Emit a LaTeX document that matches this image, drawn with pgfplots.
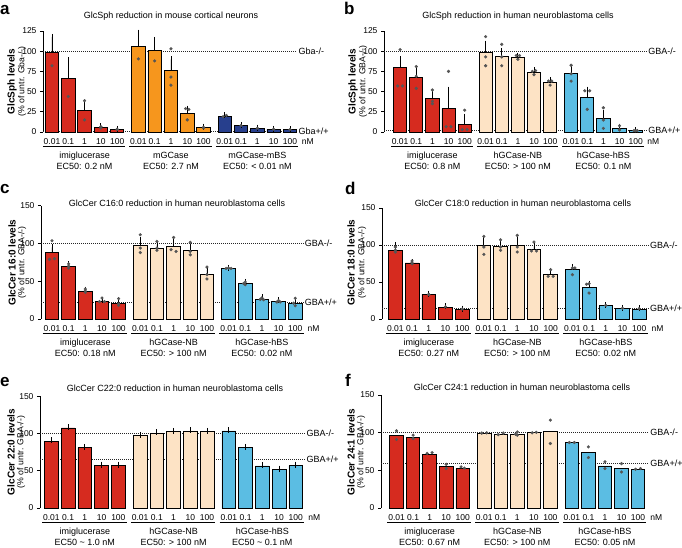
\documentclass[border=0pt]{standalone}
\usepackage{fontspec}
\setmainfont{Liberation Sans}
\usepackage{pgfplots}
\pgfplotsset{compat=1.18}
\definecolor{cred}{HTML}{D62B1F}
\definecolor{corange}{HTML}{F6961D}
\definecolor{cnavy}{HTML}{273F8D}
\definecolor{cpeach}{HTML}{FDE3C5}
\definecolor{cblue}{HTML}{5BBDE3}
\definecolor{dotgray}{HTML}{555555}
\newcommand{\tl}{\fontsize{8.5}{10}\selectfont}
\newcommand{\gl}{\fontsize{9}{11}\selectfont}
\newcommand{\yb}{\fontsize{10}{12}\selectfont\bfseries}
\newcommand{\yn}{\fontsize{8.7}{10}\selectfont}
\newcommand{\pl}{\fontsize{17}{17}\selectfont\bfseries}
\pgfplotsset{
  panel/.style={
    scale only axis, anchor=south west, clip=false,
    ymin=0, xmax=16, enlargelimits=false,
    separate axis lines,
    axis y line*=left, axis x line*=bottom,
    x axis line style={draw=none},
    xtick style={draw=none},
    y axis line style={black, line width=0.8pt},
    ytick style={black, line width=0.8pt},
    tick align=outside, major tick length=3pt,
    xtick={0,1,2,3,4,5.3,6.3,7.3,8.3,9.3,10.6,11.6,12.6,13.6,14.6,15.7},
    xticklabels={0.01,0.1,1,10,100,0.01,0.1,1,10,100,0.01,0.1,1,10,100,nM},
    ticklabel style={font=\tl, text=black},
    /pgf/number format/assume math mode=true,
  },
  bars/.style={ybar, bar width=0.82, bar shift=0pt, draw=black, line width=0.8pt},
  errs/.style={error bars/y dir=plus, error bars/y explicit,
    error bars/error bar style={black, line width=0.8pt},
    error bars/error mark options={black, line width=0.8pt, mark size=3pt}},
  dots/.style={only marks, mark=*, mark size=1.4pt, color=dotgray},
  refline/.style={black!85, line width=0.6pt, dash pattern=on 0.7pt off 1.3pt},
}
\newcommand{\refl}[4]{%
  \addplot[refline] coordinates {(#1,#3) (#2,#3)};
  \node[font=\gl, anchor=west, inner sep=1.5pt] at (axis cs:#2,#3) {#4};
}
\newcommand{\gdeco}[5]{%
  \draw[line width=0.8pt, black] ([yshift=-14.5pt]axis cs:#1,0) -- ([yshift=-14.5pt]axis cs:#2,0);
  \node[font=\gl, inner sep=0pt, anchor=base] at ([yshift=-26pt]axis cs:#3,0) {#4};
  \node[font=\gl, inner sep=0pt, anchor=base] at ([yshift=-37.5pt]axis cs:#3,0) {#5};
}
\newcommand{\alldeco}[6]{%
  \gdeco{-0.55}{4.5}{2}{#1}{#2}
  \gdeco{4.75}{9.8}{7.3}{#3}{#4}
  \gdeco{10.05}{15.1}{12.6}{#5}{#6}
}
\begin{document}
\begin{tikzpicture}
\useasboundingbox (0,0) rectangle (682pt,-547pt);
% panel letters
\node[font=\pl, anchor=base west, inner sep=0pt] at (0pt,-14pt) {a};
\node[font=\pl, anchor=base west, inner sep=0pt] at (344pt,-14pt) {b};
\node[font=\pl, anchor=base west, inner sep=0pt] at (0pt,-193pt) {c};
\node[font=\pl, anchor=base west, inner sep=0pt] at (345pt,-194pt) {d};
\node[font=\pl, anchor=base west, inner sep=0pt] at (0pt,-386pt) {e};
\node[font=\pl, anchor=base west, inner sep=0pt] at (345pt,-386pt) {f};
% titles
\node[font=\gl] at (171pt,-16pt) {GlcSph reduction in mouse cortical neurons};
\node[font=\gl] at (518pt,-16pt) {GlcSph reduction in human neuroblastoma cells};
\node[font=\gl] at (177pt,-203pt) {GlcCer C16:0 reduction in human neuroblastoma cells};
\node[font=\gl] at (523pt,-203pt) {GlcCer C18:0 reduction in human neuroblastoma cells};
\node[font=\gl] at (175pt,-388pt) {GlcCer C22:0 reduction in human neuroblastoma cells};
\node[font=\gl] at (522pt,-387pt) {GlcCer C24:1 reduction in human neuroblastoma cells};
% y labels
\node[font=\yb, rotate=90] at (12pt,-81.5pt) {GlcSph levels};
\node[font=\yn, rotate=90] at (22pt,-81.5pt) {(\% of untr. Gba-/-)};
\node[font=\yb, rotate=90] at (353pt,-81.5pt) {GlcSph levels};
\node[font=\yn, rotate=90] at (363pt,-81.5pt) {(\% of untr. GBA-/-)};
\node[font=\yb, rotate=90] at (12pt,-262.5pt) {GlcCer 16:0 levels};
\node[font=\yn, rotate=90] at (22pt,-262.5pt) {(\% of untr. GBA-/-)};
\node[font=\yb, rotate=90] at (351pt,-262.5pt) {GlcCer 18:0 levels};
\node[font=\yn, rotate=90] at (362pt,-262.5pt) {(\% of untr. GBA-/-)};
\node[font=\yb, rotate=90] at (11pt,-452pt) {GlcCer 22:0 levels};
\node[font=\yn, rotate=90] at (21pt,-452pt) {(\% of untr. GBA-/-)};
\node[font=\yb, rotate=90] at (351pt,-452pt) {GlcCer 24:1 levels};
\node[font=\yn, rotate=90] at (361pt,-452pt) {(\% of untr. GBA-/-)};

% ---------------- panel a
\begin{axis}[panel, at={(43pt,-132pt)}, x=16.3pt, y=0.808pt, xmin=-0.55, ymax=125,
  ytick={0,25,50,75,100,125}]
\refl{-0.55}{15.03}{100}{Gba-/-}
\refl{-0.55}{15.03}{1.2}{Gba+/+}
\addplot[bars, fill=cred, errs] coordinates {(0,99) +- (0,18.6) (1,66) +- (0,23) (2,27) +- (0,6) (3,5.8) +- (0,1.6) (4,3.3) +- (0,0.7)};
\addplot[bars, fill=corange, errs] coordinates {(5.3,106) +- (0,17) (6.3,100.5) +- (0,13.5) (7.3,75.7) +- (0,14.3) (8.3,23) +- (0,6) (9.3,5.3) +- (0,1.3)};
\addplot[bars, fill=cnavy, errs] coordinates {(10.6,19.3) +- (0,1.7) (11.6,7.8) +- (0,0.8) (12.6,4.5) +- (0,0.8) (13.6,3.3) +- (0,0.5) (14.6,2.9) +- (0,0.5)};
\addplot[dots] coordinates {(0,82) (1,44) (2,38.7) (2,15) (3,6.5) (3,5) (4,3.5) (4,3)
 (5.3,90.5) (6.3,88) (7.3,103) (7.3,68) (7.3,58) (8.2,29) (8.4,28) (8.3,15) (9.3,5.8) (9.3,5)
 (10.5,19) (10.7,20.5) (11.6,8) (12.6,4.7) (13.6,3.5) (14.6,3)};
\alldeco{imiglucerase}{EC50: 0.2 nM}{mGCase}{EC50: 2.7 nM}{mGCase-mBS}{EC50: < 0.01 nM}
\end{axis}

% ---------------- panel b
\begin{axis}[panel, at={(384pt,-132pt)}, x=16.13pt, y=0.808pt, xmin=-1.0, ymax=125,
  ytick={0,25,50,75,100,125}]
\refl{-1.0}{15.28}{100}{GBA-/-}
\refl{-1.0}{15.28}{2.5}{GBA+/+}
\addplot[bars, fill=cred, errs] coordinates {(0,79.4) +- (0,11) (1,68) +- (0,8.5) (2,41.5) +- (0,6.2) (3,28.8) +- (0,23.8) (4,9.9) +- (0,9.1)};
\addplot[bars, fill=cpeach, errs] coordinates {(5.3,99) +- (0,10.4) (6.3,93.8) +- (0,6.5) (7.3,92) +- (0,2.6) (8.3,73.6) +- (0,2.9) (9.3,61.3) +- (0,2.7)};
\addplot[bars, fill=cblue, errs] coordinates {(10.6,72) +- (0,6.5) (11.6,42.8) +- (0,9.8) (12.6,16.4) +- (0,7.4) (13.6,4.5) +- (0,2.1) (14.6,1.6) +- (0,0.6)};
\addplot[dots] coordinates {(0,102) (-0.15,57) (0.15,57) (1,81) (1,69) (1,54) (2,52) (2,38) (2,35) (3,75) (2.85,6.6) (3.15,6.6) (4,27) (3.85,3) (4.15,3)
 (5.3,118) (5.3,93) (5.3,82) (6.3,108.5) (6.3,93) (6.3,82) (7.2,94.6) (7.4,94.6) (7.3,90) (8.2,75) (8.4,76) (8.3,71) (9.2,63) (9.4,63) (9.3,58)
 (10.6,82.6) (10.6,72) (10.6,63) (11.45,51) (11.75,51) (11.6,28) (12.6,30) (12.6,14.8) (12.6,4.5) (13.6,7.8) (13.6,3) (13.6,2.5) (14.5,1.7) (14.7,1.7) (14.6,1.5)};
\alldeco{imiglucerase}{EC50: 0.8 nM}{hGCase-NB}{EC50: > 100 nM}{hGCase-hBS}{EC50: 0.1 nM}
\end{axis}

% ---------------- panel c
\begin{axis}[panel, at={(41pt,-319pt)}, x=16.66pt, y=0.755pt, xmin=-0.66, ymax=150,
  ytick={0,50,100,150}]
\refl{-0.66}{15.08}{100}{GBA-/-}
\refl{-0.66}{15.08}{21.6}{GBA+/+}
\addplot[bars, fill=cred, errs] coordinates {(0,88) +- (0,7) (1,69.7) +- (0,2.5) (2,36.6) +- (0,2.2) (3,23.8) +- (0,1.8) (4,21.2) +- (0,3.5)};
\addplot[bars, fill=cpeach, errs] coordinates {(5.3,97.5) +- (0,6.5) (6.3,94) +- (0,5) (7.3,96) +- (0,6) (8.3,91) +- (0,5) (9.3,59.5) +- (0,5.8)};
\addplot[bars, fill=cblue, errs] coordinates {(10.6,67) +- (0,0.8) (11.6,47.6) +- (0,1.5) (12.6,26.5) +- (0,2) (13.6,23) +- (0,1.7) (14.6,21.2) +- (0,4)};
\addplot[dots] coordinates {(0,103.7) (-0.15,79) (0.15,80) (1,73) (1,70) (1,67.5) (2,39.7) (2,37) (2,35.3) (3,27.8) (2.85,23) (3.15,23) (4,27) (4,20) (4,18)
 (5.3,111.6) (5.3,94) (5.3,88) (6.3,102.8) (6.3,94) (6.3,91) (7.3,108) (7.15,91.8) (7.45,89.5) (8.3,101.5) (8.3,89.5) (8.3,85) (9.3,68.8) (9.3,58.7) (9.3,53)
 (10.45,67) (10.6,67.5) (10.75,67) (11.6,49) (11.5,47) (11.6,45.4) (12.6,28) (12.5,26) (12.7,25.5) (13.6,24.5) (13.5,22.5) (13.7,22.5) (14.6,27.5) (14.5,21) (14.6,17.6)};
\alldeco{imiglucerase}{EC50: 0.18 nM}{hGCase-NB}{EC50: > 100 nM}{hGCase-hBS}{EC50: 0.02 nM}
\end{axis}

% ---------------- panel d
\begin{axis}[panel, at={(382pt,-319pt)}, x=16.7pt, y=0.74pt, xmin=-0.8, ymax=150,
  ytick={0,50,100,150}]
\refl{-0.8}{15.15}{100}{GBA-/-}
\refl{-0.8}{15.15}{14.5}{GBA+/+}
\addplot[bars, fill=cred, errs] coordinates {(0,92.8) +- (0,6.7) (1,75.7) +- (0,1.3) (2,33.3) +- (0,0.9) (3,16.2) +- (0,0.9) (4,12.6) +- (0,1.4)};
\addplot[bars, fill=cpeach, errs] coordinates {(5.3,99.5) +- (0,7.5) (6.3,98.2) +- (0,5.8) (7.3,99.5) +- (0,7.5) (8.3,93.7) +- (0,4.5) (9.3,59.9) +- (0,5)};
\addplot[bars, fill=cblue, errs] coordinates {(10.6,66.7) +- (0,3.6) (11.6,42.3) +- (0,5.4) (12.6,18) +- (0,0.9) (13.6,14.4) +- (0,0.5) (14.6,13.5) +- (0,0.9)};
\addplot[dots] coordinates {(0,97.3) (0,93) (0,90.5) (1,78.4) (1,76) (1,74.5) (2,33.5) (2,33) (3,16.5) (4,13.5)
 (5.3,111.7) (5.3,97.3) (5.3,87.4) (6.3,107) (6.3,97.3) (6.3,92.8) (7.3,113) (7.3,97.3) (7.3,90.5) (8.3,104) (8.15,91.9) (8.45,91.9) (9.3,66.7) (9.15,57.7) (9.45,57.7)
 (10.6,68.9) (10.75,69) (10.6,59.9) (11.45,47) (11.6,47.7) (11.6,35.1) (12.6,18.5) (13.6,14.6) (14.6,14)};
\alldeco{imiglucerase}{EC50: 0.27 nM}{hGCase-NB}{EC50: > 100 nM}{hGCase-hBS}{EC50: 0.02 nM}
\end{axis}

% ---------------- panel e
\begin{axis}[panel, at={(40pt,-508pt)}, x=16.74pt, y=0.745pt, xmin=-0.68, ymax=150,
  ytick={0,50,100,150}]
\refl{-0.68}{15.15}{100}{GBA-/-}
\refl{-0.68}{15.15}{65.7}{GBA+/+}
\addplot[bars, fill=cred, errs] coordinates {(0,89.6) +- (0,1.2) (1,107.5) +- (0,1.2) (2,81) +- (0,1.2) (3,57.3) +- (0,1) (4,57.3) +- (0,1)};
\addplot[bars, fill=cpeach, errs] coordinates {(5.3,97.2) +- (0,1) (6.3,100.8) +- (0,1.2) (7.3,102.5) +- (0,1.2) (8.3,103.4) +- (0,1.2) (9.3,102.5) +- (0,1.2)};
\addplot[bars, fill=cblue, errs] coordinates {(10.6,103.4) +- (0,1.2) (11.6,81) +- (0,1.2) (12.6,56.4) +- (0,1.2) (13.6,51.5) +- (0,1.5) (14.6,56.9) +- (0,1.2)};
\alldeco{imiglucerase}{EC50 \textasciitilde\ 1.0 nM}{hGCase-NB}{EC50: > 100 nM}{hGCase-hBS}{EC50 \textasciitilde\ 0.1 nM}
\end{axis}

% ---------------- panel f
\begin{axis}[panel, at={(381pt,-508pt)}, x=16.54pt, y=0.753pt, xmin=-0.94, ymax=150,
  ytick={0,50,100,150}]
\refl{-0.94}{15.25}{100}{GBA-/-}
\refl{-0.94}{15.25}{60}{GBA+/+}
\addplot[bars, fill=cred] coordinates {(0,96.3) (1,93.7) (2,71.5) (3,54.6) (4,52.4)};
\addplot[bars, fill=cpeach] coordinates {(5.3,99) (6.3,98.2) (7.3,97.6) (8.3,99.9) (9.3,101.2)};
\addplot[bars, fill=cblue] coordinates {(10.6,86.5) (11.6,74.1) (12.6,55.9) (13.6,52.4) (14.6,51)};
\addplot[dots] coordinates {(0,102.5) (0,91) (1,96.8) (1,92.3) (1.85,72.5) (2.15,73.5) (3,58.1) (3,52.4) (3.9,54.6) (4.1,53)
 (5.15,99.5) (5.45,99.8) (6.15,97.5) (6.45,99.5) (7.3,101) (7.2,98) (7.3,96.8) (8.2,99.8) (8.45,100.5) (9.3,116.7) (9.3,85.7)
 (10.45,87) (10.75,87) (11.6,81.2) (11.6,67) (12.6,61.3) (12.6,52.4) (13.6,59) (13.6,47.9) (14.45,51.5) (14.75,52.4)};
\alldeco{imiglucerase}{EC50: 0.67 nM}{hGCase-NB}{EC50: > 100 nM}{hGCase-hBS}{EC50: 0.05 nM}
\end{axis}
\end{tikzpicture}
\end{document}
